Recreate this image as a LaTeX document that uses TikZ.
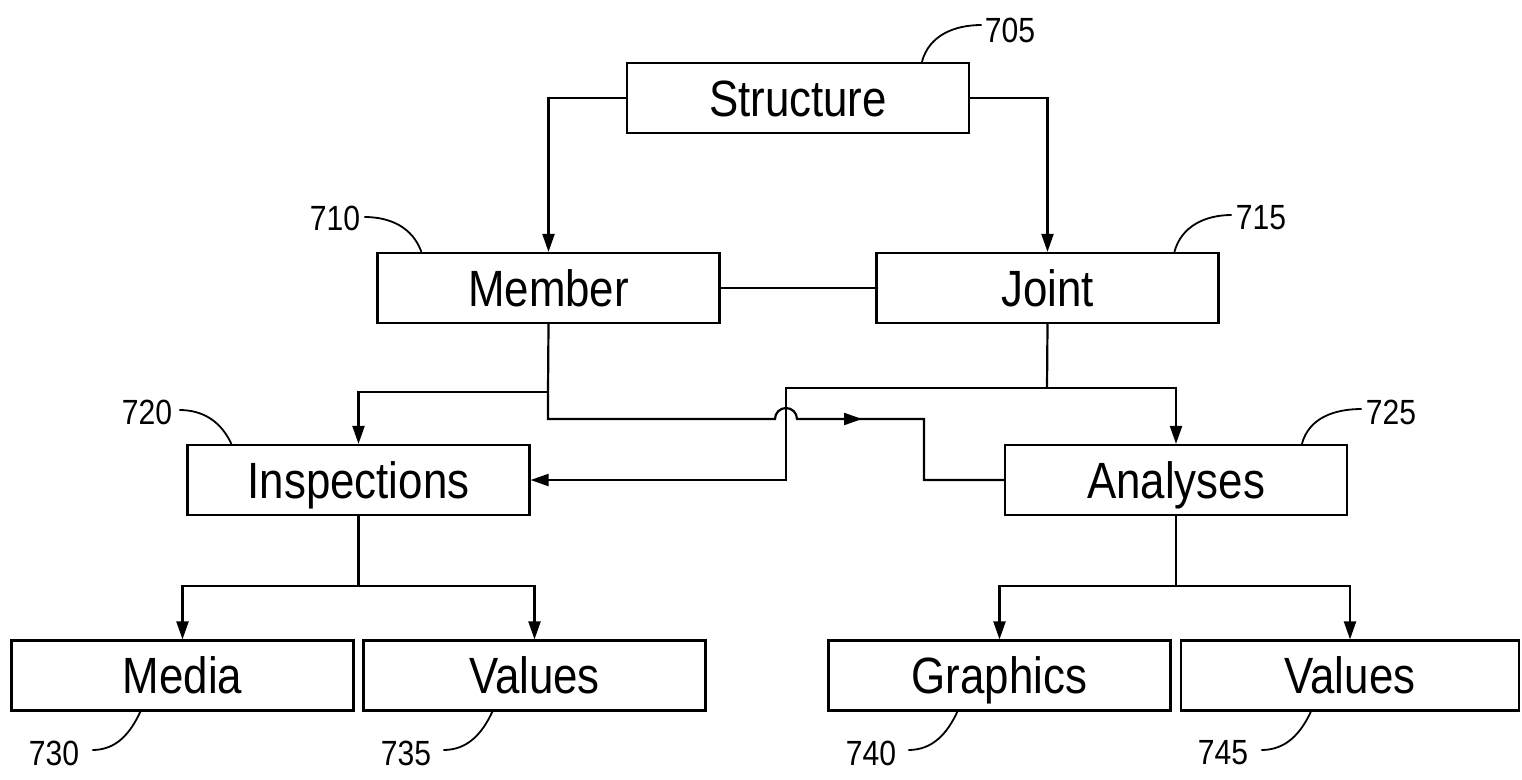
\documentclass[tikz,border=0pt]{standalone}
\usepackage{fontspec}
\setmainfont{Liberation Sans}[FakeStretch=0.86]
\usetikzlibrary{arrows.meta,calc}
\begin{document}
\begin{tikzpicture}[x=1pt,y=1pt,
  box/.style={draw, line width=2.2pt, minimum width=342pt, minimum height=70pt, inner sep=0pt,
    text height=36pt, text depth=0pt, font=\fontsize{51}{60}\selectfont},
  conn/.style={line width=2.2pt},
  arr/.style={conn, -{Triangle[length=18pt,width=12pt]}},
  lbl/.style={inner sep=0pt, font=\fontsize{35}{42}\selectfont},
  lead/.style={line width=1.8pt}]
\useasboundingbox (0,0) rectangle (1522,-779);

% boxes
\node[box] (structure) at (798,-98) {Structure};
\node[box] (member) at (548.5,-288) {Member};
\node[box] (joint) at (1047.5,-288) {Joint};
\node[box] (inspections) at (358.5,-480) {Inspections};
\node[box] (analyses) at (1176,-480) {Analyses};
\node[box] (media) at (182.5,-675.5) {Media};
\node[box] (valuesL) at (534.5,-675.5) {Values};
\node[box] (graphics) at (999.5,-675.5) {Graphics};
\node[box, minimum width=338pt] (valuesR) at (1350,-675.5) {Values};

% reference labels
\node[lbl] (l705) at (1010,-30) {705};
\node[lbl] (l710) at (335,-218) {710};
\node[lbl] (l715) at (1261,-218) {715};
\node[lbl] (l720) at (147,-412) {720};
\node[lbl] (l725) at (1391,-412) {725};
\node[lbl] (l730) at (54,-753) {730};
\node[lbl] (l735) at (406,-753) {735};
\node[lbl] (l740) at (871,-753) {740};
\node[lbl] (l745) at (1223,-753) {745};

% junction coordinates
\coordinate (m1) at (548,-392);
\coordinate (m2) at (548,-419);
\coordinate (hopL) at (775,-419);
\coordinate (hopR) at (797,-419);
\coordinate (midA) at (862,-419);
\coordinate (m3) at (924,-419);
\coordinate (m4) at (924,-480);
\coordinate (j1) at (1047,-388);
\coordinate (j2) at (786,-388);
\coordinate (j3) at (786,-480);
\coordinate (i1) at (358.5,-586);
\coordinate (a1) at (1176,-586);

% connectors
\draw[arr] (structure.west) -| (member.north);
\draw[arr] (structure.east) -| (joint.north);
\draw[conn] (member.east) -- (joint.west);

\draw[conn] (member.south) -- (m1) -- (m2) -- (hopL)
  arc[start angle=180, end angle=0, radius=11] -- (m3) -- (m4) -- (analyses.west);
\draw[arr] (hopR) -- (midA);
\draw[arr] (m1) -| (inspections.north);

\draw[conn] (joint.south) -- (j1);
\draw[arr] (j1) -| (analyses.north);
\draw[arr] (j1) -- (j2) -- (j3) -- (inspections.east);

\draw[conn] (inspections.south) -- (i1);
\draw[arr] (i1) -| (media.north);
\draw[arr] (i1) -| (valuesL.north);

\draw[conn] (analyses.south) -- (a1);
\draw[arr] (a1) -| (graphics.north);
\draw[arr] (a1) -| (valuesR.north);

% leader curves
\draw[lead] ([xshift=296pt]structure.north west) to[out=75,in=180] ([xshift=-3pt,yshift=5pt]l705.west);
\draw[lead] ([xshift=4pt,yshift=1pt]l710.east) to[out=0,in=110] ([xshift=45pt]member.north west);
\draw[lead] ([xshift=299pt]joint.north west) to[out=75,in=180] ([xshift=-4pt,yshift=3pt]l715.west);
\draw[lead] ([xshift=7pt,yshift=2pt]l720.east) to[out=0,in=115] ([xshift=45pt]inspections.north west);
\draw[lead] ([xshift=298pt]analyses.north west) to[out=75,in=180] ([xshift=-4pt,yshift=3pt]l725.west);
\draw[lead] ([xshift=13pt,yshift=3pt]l730.east) to[out=0,in=245] ([xshift=130pt]media.south west);
\draw[lead] ([xshift=12pt,yshift=3pt]l735.east) to[out=0,in=245] ([xshift=130pt]valuesL.south west);
\draw[lead] ([xshift=12pt,yshift=3pt]l740.east) to[out=0,in=245] ([xshift=130pt]graphics.south west);
\draw[lead] ([xshift=13pt,yshift=3pt]l745.east) to[out=0,in=245] ([xshift=131pt]valuesR.south west);
\end{tikzpicture}
\end{document}
